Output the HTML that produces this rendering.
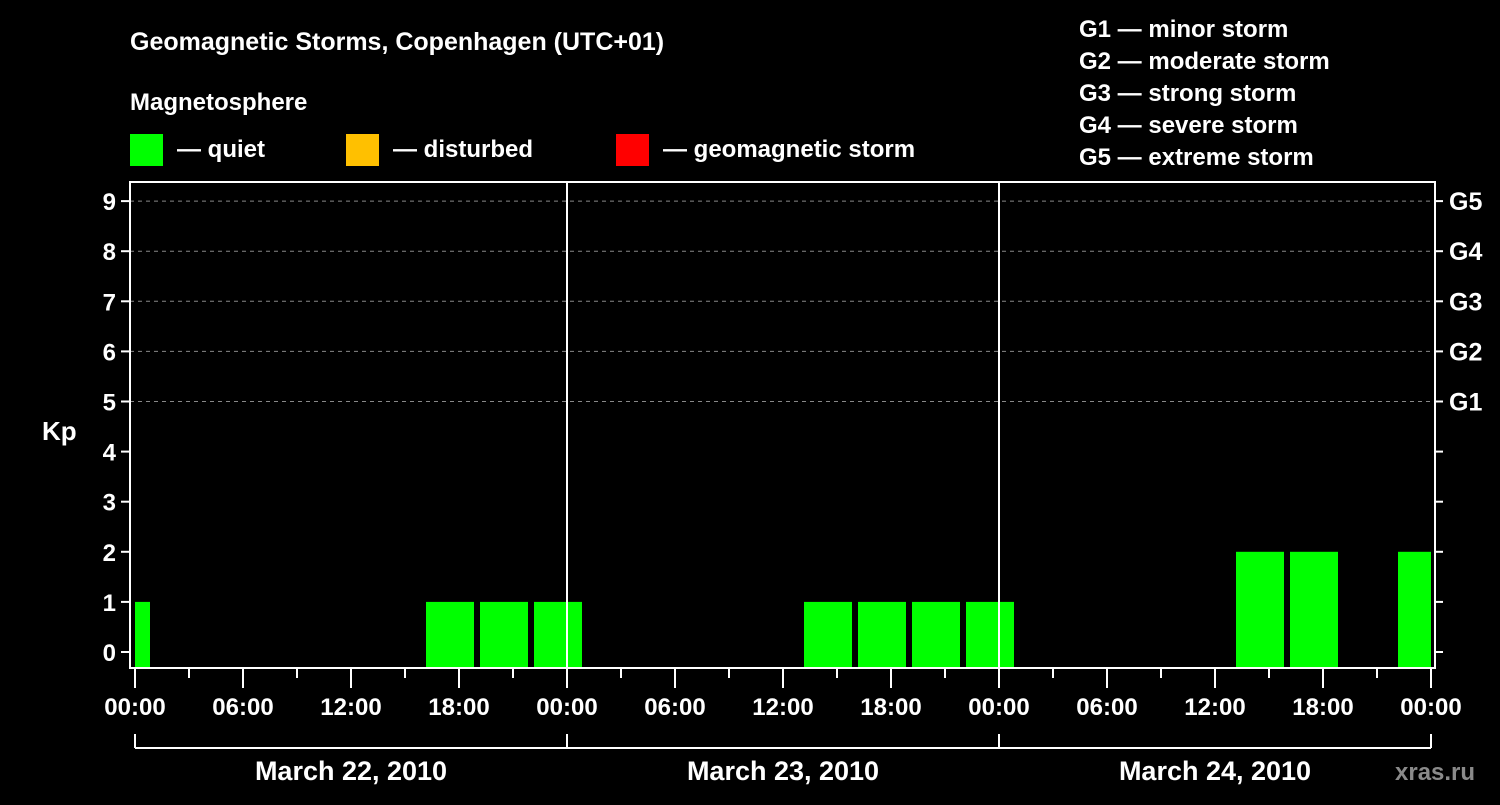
<!DOCTYPE html>
<html><head><meta charset="utf-8"><style>
body{margin:0;background:#000;width:1500px;height:800px;overflow:hidden}
svg text{font-family:"Liberation Sans",Arial,sans-serif;font-weight:bold;fill:#fff}
</style></head><body>
<svg id="c" width="1500" height="800">
<text x="130" y="50" font-size="25">Geomagnetic Storms, Copenhagen (UTC+01)</text>
<text x="130" y="110" font-size="24">Magnetosphere</text>
<g><rect x="130" y="134" width="33" height="32" fill="#00ff00"/><text x="177" y="157" font-size="24">— quiet</text></g>
<g><rect x="346" y="134" width="33" height="32" fill="#ffc000"/><text x="393" y="157" font-size="24">— disturbed</text></g>
<g><rect x="616" y="134" width="33" height="32" fill="#ff0000"/><text x="663" y="157" font-size="24">— geomagnetic storm</text></g>
<g font-size="24">
<text x="1079" y="37">G1 — minor storm</text>
<text x="1079" y="69">G2 — moderate storm</text>
<text x="1079" y="101">G3 — strong storm</text>
<text x="1079" y="133">G4 — severe storm</text>
<text x="1079" y="165">G5 — extreme storm</text>
</g>
<text x="42" y="440" font-size="26">Kp</text>
<text x="1395" y="780" font-size="24" fill="#888" style="fill:#8a8a8a">xras.ru</text>
<g id="plot"></g>
</svg>
<script>
// slot start hours (local, from Mar 22 00:00) and Kp values
const slotStarts = [-2,1,4,7,10,13,16,19,22,25,28,31,34,37,40,43,46,49,52,55,58,61,64,67,70];
const kpValues   = [1,0,0,0,0,0,1,1,1,0,0,0,0,1,1,1,1,0,0,0,0,2,2,0,2];
const dayLabels = ["March 22, 2010","March 23, 2010","March 24, 2010"];
const gLabels = ["G1","G2","G3","G4","G5"];
const hourLabels = ["00:00","06:00","12:00","18:00"];

const X0=135, PXH=18, L=130, R=1435, T=182, B=668;
const x = h => X0 + h*PXH;
const y = k => 652 - k*50.1;
const ns="http://www.w3.org/2000/svg";
const g=document.getElementById('plot');
function mk(t,a){const e=document.createElementNS(ns,t);for(const k in a)e.setAttribute(k,a[k]);g.appendChild(e);return e;}

for(let k=5;k<=9;k++){
  const e=mk('line',{x1:L,x2:R,y1:y(k),y2:y(k),stroke:'#888','stroke-dasharray':'4,4','stroke-width':1});
  
  
}
slotStarts.forEach((s,i)=>{
  const v=kpValues[i]; if(v<=0) return;
  const x1=Math.max(x(s)+3,X0), x2=Math.min(x(s+3)-3,R-4);
  const col=v>=5?'#ff0000':(v>=4?'#ffc000':'#00ff00');
  const e=mk('rect',{x:x1,y:y(v),width:x2-x1,height:B-y(v),fill:col});
  
  
});
for(let d=1;d<3;d++){
  const e=mk('line',{x1:x(24*d),x2:x(24*d),y1:T,y2:B,stroke:'#fff','stroke-width':2});
  
  
}
const box=mk('rect',{x:L,y:T,width:R-L,height:B-T,fill:'none',stroke:'#fff','stroke-width':2});


for(let k=0;k<=9;k++){
  mk('line',{x1:L-9,x2:L,y1:y(k),y2:y(k),stroke:'#fff','stroke-width':2});
  mk('line',{x1:R,x2:R+8,y1:y(k),y2:y(k),stroke:'#fff','stroke-width':2});
  const t=mk('text',{x:L-14,y:y(k)+9,'font-size':24,'text-anchor':'end'});t.textContent=k;
  
  
}
gLabels.forEach((lb,i)=>{
  const t=mk('text',{x:1449,y:y(5+i)+9,'font-size':25});t.textContent=lb;
  
  
});
for(let h=0;h<=72;h+=3){
  const major=h%6===0;
  mk('line',{x1:x(h),x2:x(h),y1:B,y2:B+(major?20:10),stroke:'#fff','stroke-width':2});
  if(major){
    const t=mk('text',{x:x(h),y:715,'font-size':24,'text-anchor':'middle'});
    t.textContent=hourLabels[(h/6)%4];
    
    
  }
}
mk('line',{x1:X0,x2:x(72),y1:748,y2:748,stroke:'#fff','stroke-width':2});
for(let d=0;d<=3;d++) mk('line',{x1:x(24*d),x2:x(24*d),y1:734,y2:748,stroke:'#fff','stroke-width':2});
dayLabels.forEach((lb,d)=>{
  const t=mk('text',{x:x(24*d+12),y:780,'font-size':27,'text-anchor':'middle'});t.textContent=lb;
  
  
});
</script>
</body></html>
